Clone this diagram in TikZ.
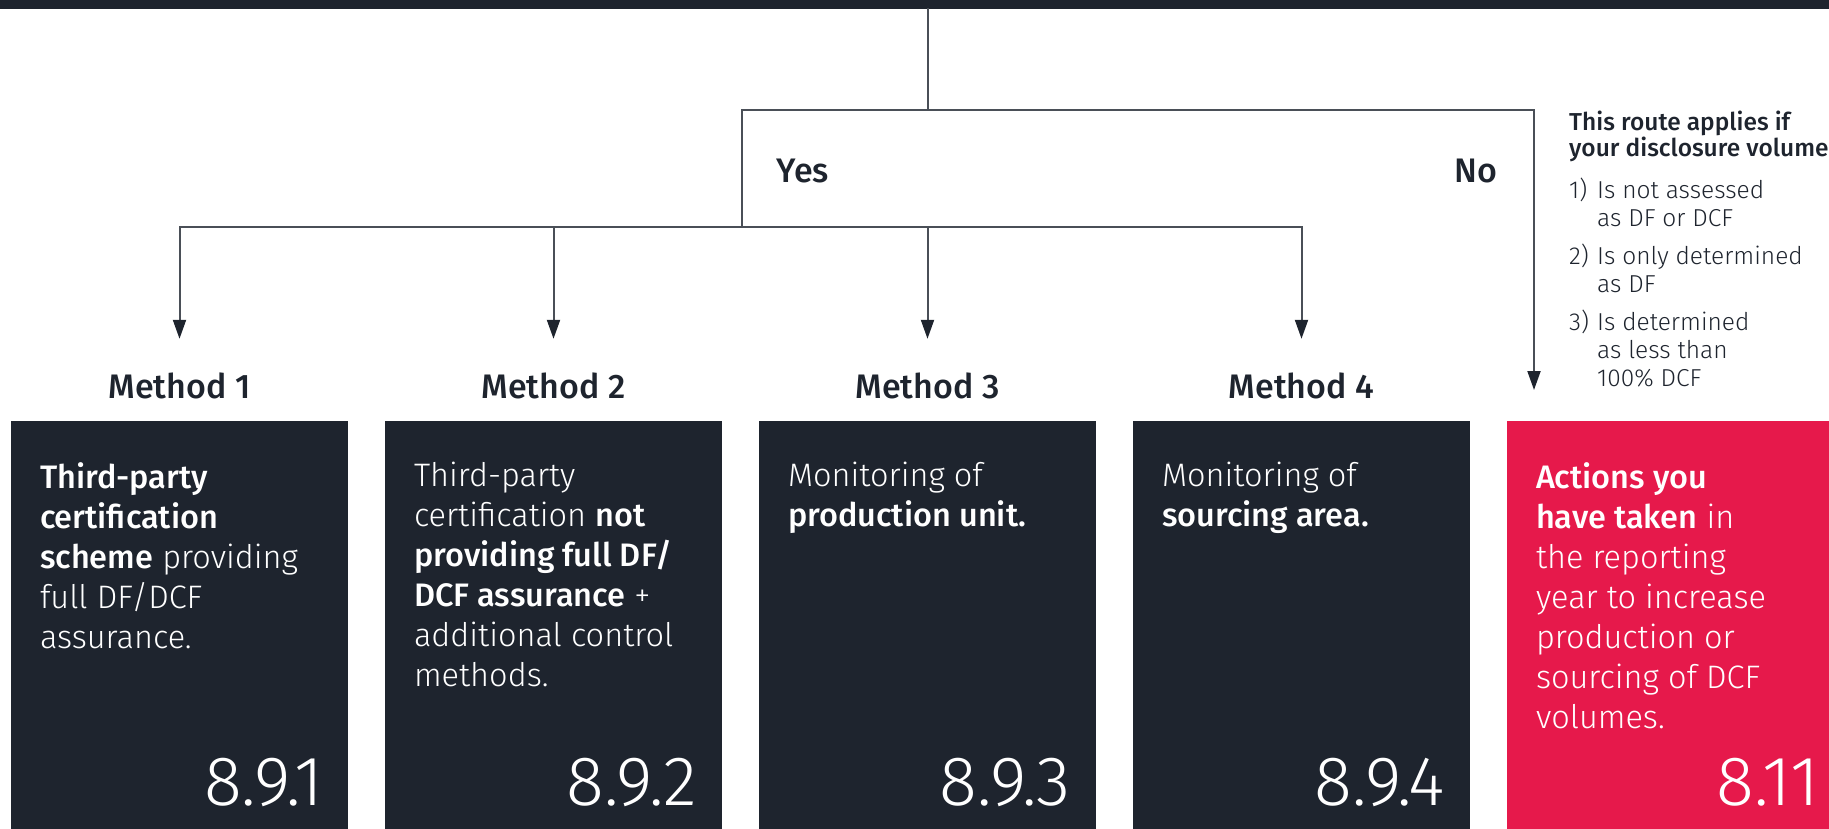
\documentclass[tikz,border=0pt]{standalone}
\usepackage{fontspec}
\setmainfont{Fira Sans}[UprightFont=* Light,BoldFont=* Medium]
\usetikzlibrary{arrows.meta,positioning}
\definecolor{ReportInk}{HTML}{1E242E}
\definecolor{ReportLine}{HTML}{4A4F57}
\definecolor{ReportRed}{HTML}{E6194B}

\begin{document}
\begin{tikzpicture}[
    x=1pt,y=-1pt,
    methodbox/.style={fill=ReportInk,draw=none,minimum width=337pt,
      minimum height=440pt,anchor=north,inner sep=0pt},
    boxtext/.style={anchor=north west,inner sep=0pt,align=left,text=white,
      font=\fontsize{32.5}{40}\selectfont},
    boxnum/.style={anchor=base east,inner sep=0pt,text=white,
      font=\fontsize{70}{70}\selectfont},
    methodlabel/.style={anchor=base,inner sep=0pt,text height=26pt,text depth=8pt,
      text=ReportInk,font=\bfseries\fontsize{34}{34}\selectfont},
    conn/.style={draw=ReportLine,line width=2pt,line cap=rect},
    arr/.style={conn,-{Triangle[length=19pt,width=13pt,fill=ReportInk,color=ReportInk]}}
  ]
  \useasboundingbox (0,0) rectangle (1829,828);
  \clip (0,0) rectangle (1829,828);

  % question bar along the top edge
  \node[fill=ReportInk,minimum width=1829pt,minimum height=9pt,inner sep=0pt,
    anchor=north west] (question) at (0,0) {};

  \foreach \i/\x in {1/179.5,2/553.5,3/927.5,4/1301.5}
    \node[methodlabel] (lab\i) at (\x,398) {Method \i};
  \foreach \i/\x/\c in {1/179.5/ReportInk,2/553.5/ReportInk,3/927.5/ReportInk,
      4/1301.5/ReportInk,5/1675.5/ReportRed}
    \node[methodbox,fill=\c] (box\i) at (\x,421) {};

  \node[methodlabel] (yes) at (803,182) {Yes};
  \node[methodlabel] (no) at (1476,182) {No};

  % box contents
  \node[boxtext] (txt1) at ([xshift=29pt,yshift=-41pt]box1.north west)
    {\textbf{Third-party}\\\textbf{certification}\\\textbf{scheme} providing\\full DF/DCF\\assurance.};
  \node[boxtext] (txt2) at ([xshift=29pt,yshift=-41pt]box2.north west)
    {Third-party\\certification \textbf{not}\\\textbf{providing full DF/}\\\textbf{DCF assurance} +\\additional control\\methods.};
  \node[boxtext] (txt3) at ([xshift=29pt,yshift=-41pt]box3.north west)
    {Monitoring of\\\textbf{production unit.}};
  \node[boxtext] (txt4) at ([xshift=29pt,yshift=-41pt]box4.north west)
    {Monitoring of\\\textbf{sourcing area.}};
  \node[boxtext] (txt5) at ([xshift=29pt,yshift=-41pt]box5.north west)
    {\textbf{Actions you}\\\textbf{have taken} in\\the reporting\\year to increase\\production or\\sourcing of DCF\\volumes.};

  \foreach \i/\n in {1/8.9.1,2/8.9.2,3/8.9.3,4/8.9.4,5/8.11}
    \node[boxnum] (num\i) at ([xshift=-25pt,yshift=-384pt]box\i.north east) {\n};

  % conditions for the No route
  \node[anchor=north west,inner sep=0pt,align=left,text=ReportInk,
    font=\fontsize{24.5}{28}\selectfont] (route) at (1569,111)
    {\textbf{This route applies if}\\[-2pt]\textbf{your disclosure volume}\\[14pt]
     \makebox[28pt][l]{1)}Is not assessed\\\hspace*{28pt}as DF or DCF\\[10pt]
     \makebox[28pt][l]{2)}Is only determined\\\hspace*{28pt}as DF\\[10pt]
     \makebox[28pt][l]{3)}Is determined\\\hspace*{28pt}as less than\\\hspace*{28pt}100\% DCF};

  % connectors
  \coordinate (split) at (927.5,110);
  \coordinate (yesfork) at (742,227);
  \coordinate (noturn) at (1534,110);
  \draw[conn] (question.south -| split) -- (split);
  \draw[conn] (yesfork) |- (noturn);
  \draw[arr,shorten >=31pt] (noturn) -- (noturn |- box5.north);
  \draw[conn] (lab1 |- yesfork) -- (lab4 |- yesfork);
  \foreach \i in {1,...,4}
    \draw[arr,shorten >=33pt] (lab\i |- yesfork) -- (lab\i.north);
\end{tikzpicture}
\end{document}
